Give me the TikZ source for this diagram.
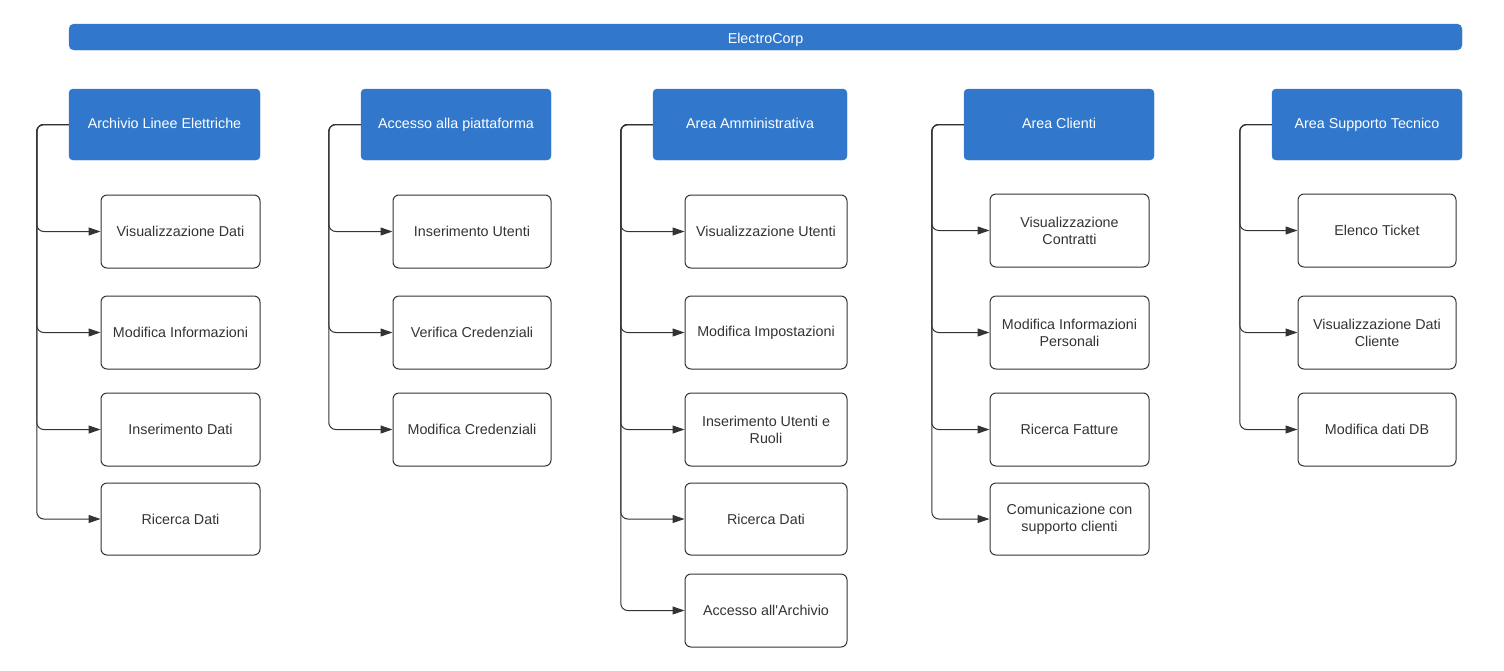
\documentclass[tikz,border=0pt]{standalone}
\usepackage{fontspec}
\setmainfont{Liberation Sans}
\usetikzlibrary{arrows.meta}
\definecolor{ecblue}{HTML}{3178CC}
\definecolor{ecgray}{HTML}{333333}
\tikzset{
  topbar/.style={draw=ecblue,fill=ecblue,rounded corners=5pt,text=white,minimum width=1393pt,minimum height=26pt,inner sep=0pt,text height=12pt,text depth=0pt},
  areabox/.style={draw=ecblue,fill=ecblue,rounded corners=4pt,text=white,minimum height=71pt,inner sep=0pt,text height=10pt,text depth=3pt},
  funcbox/.style={draw=ecgray,line width=1pt,rounded corners=6pt,text=ecgray,minimum height=73pt,inner sep=0pt,align=center},
  conn/.style={draw=ecgray,line width=1pt,rounded corners=7pt,-{Triangle[length=12pt,width=8pt]}}
}
\begin{document}
\begin{tikzpicture}[x=1pt,y=-1pt,font=\fontsize{14.3}{17}\selectfont]
        \useasboundingbox (0,0) rectangle (1504,670);
        \node[topbar] (root) at (765.5,37) {ElectroCorp};
        % aree
        \node[areabox,minimum width=191pt] (arc) at (164.5,124.5) {Archivio Linee Elettriche};
        \node[areabox,minimum width=190pt] (acc) at (456,124.5) {Accesso alla piattaforma};
        \node[areabox,minimum width=194pt] (adm) at (750,124.5) {Area Amministrativa};
        \node[areabox,minimum width=190pt] (cli) at (1059,124.5) {Area Clienti};
        \node[areabox,minimum width=190pt] (sup) at (1367,124.5) {Area Supporto Tecnico};
        % archivio
        \node[funcbox,minimum width=159pt] (arc1) at (180.5,231.5) {Visualizzazione Dati};
        \node[funcbox,minimum width=159pt] (arc2) at (180.5,332.5) {Modifica Informazioni};
        \node[funcbox,minimum width=159pt] (arc3) at (180.5,429.5) {Inserimento Dati};
        \node[funcbox,minimum width=159pt,minimum height=72pt] (arc4) at (180.5,519) {Ricerca Dati};
        % accesso
        \node[funcbox,minimum width=158pt] (acc1) at (472,231.5) {Inserimento Utenti};
        \node[funcbox,minimum width=158pt] (acc2) at (472,332.5) {Verifica Credenziali};
        \node[funcbox,minimum width=158pt] (acc3) at (472,429.5) {Modifica Credenziali};
        % amministrativa
        \node[funcbox,minimum width=162pt] (adm1) at (766,231.5) {Visualizzazione Utenti};
        \node[funcbox,minimum width=162pt] (adm2) at (766,332.5) {Modifica Impostazioni};
        \node[funcbox,minimum width=162pt] (adm3) at (766,429.5) {Inserimento Utenti e\\Ruoli};
        \node[funcbox,minimum width=162pt,minimum height=72pt] (adm4) at (766,519) {Ricerca Dati};
        \node[funcbox,minimum width=162pt] (adm5) at (766,610.5) {Accesso all\textquotesingle Archivio};
        % clienti
        \node[funcbox,minimum width=159pt] (cli1) at (1069.5,230.5) {Visualizzazione\\Contratti};
        \node[funcbox,minimum width=159pt] (cli2) at (1069.5,332.5) {Modifica Informazioni\\Personali};
        \node[funcbox,minimum width=159pt] (cli3) at (1069.5,429.5) {Ricerca Fatture};
        \node[funcbox,minimum width=159pt,minimum height=72pt] (cli4) at (1069.5,519) {Comunicazione con\\supporto clienti};
        % supporto
        \node[funcbox,minimum width=158pt] (sup1) at (1377,230.5) {Elenco Ticket};
        \node[funcbox,minimum width=158pt] (sup2) at (1377,332.5) {Visualizzazione Dati\\Cliente};
        \node[funcbox,minimum width=158pt] (sup3) at (1377,429.5) {Modifica dati DB};
        % collegamenti
        \foreach \a/\n in {arc/4,acc/3,adm/5,cli/4,sup/3}
          \foreach \i in {1,...,\n}
            \draw[conn] (\a.west) -- ++(-32,0) |- (\a\i.west);
    \end{tikzpicture}
\end{document}
